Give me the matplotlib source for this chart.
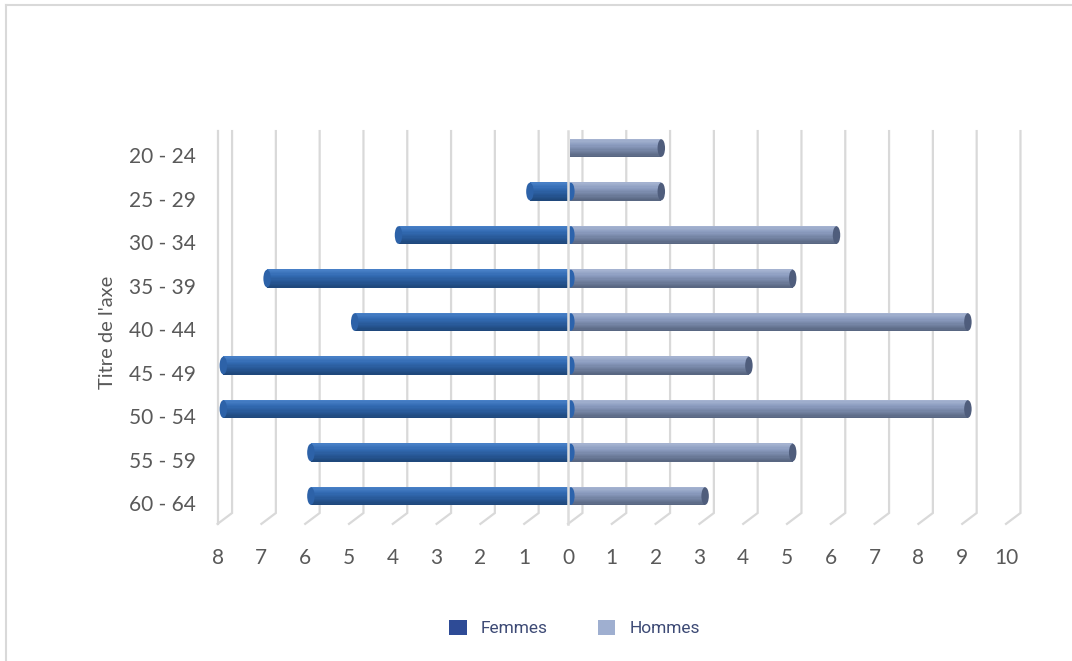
import matplotlib.pyplot as plt
import matplotlib.colors as mcolors
from matplotlib.lines import Line2D
from matplotlib.patches import Ellipse, Patch

age_groups = ["20 - 24", "25 - 29", "30 - 34", "35 - 39", "40 - 44",
              "45 - 49", "50 - 54", "55 - 59", "60 - 64"]
femmes = [0, 1, 4, 7, 5, 8, 8, 6, 6]
hommes = [2, 2, 6, 5, 9, 4, 9, 5, 3]
x_ticks = list(range(-8, 11))

# pseudo-3D geometry (data units)
DEPTH = 0.33          # back wall shift to the right
Y_TOP = -0.55
Y_BACK = 8.23
Y_FRONT = 8.48
BAR_H = 0.414
BAR_DY = -0.16
BAR_DX = 0.045
CAP = 0.17
GRID = "#D9D9D9"
TEXT = "#595959"

F_TOP, F_MID, F_BOT = "#4A82C8", "#3169B1", "#1E4679"
H_TOP, H_MID, H_BOT = "#A7B5D2", "#8A9BBE", "#56647F"


def shade(top, mid, bot, t):
    # t: 0 = top edge, 1 = bottom edge
    a, b, c = (mcolors.to_rgb(v) for v in (top, mid, bot))
    if t < 0.35:
        s = t / 0.35
        return tuple(a[i] * (1 - s) + b[i] * s for i in range(3))
    s = (t - 0.35) / 0.65
    return tuple(b[i] * (1 - s) + c[i] * s for i in range(3))


def cylinder(ax, y, left, width, cols, n=14):
    for k in range(n):
        t = (k + 0.5) / n
        yy = y - BAR_H / 2 + t * BAR_H
        ax.barh(yy, width, left=left, height=BAR_H / n + 0.002,
                color=shade(*cols, t), linewidth=0, zorder=3)


plt.rcParams["font.family"] = ["Lato", "DejaVu Sans"]
fig = plt.figure(figsize=(10.72, 6.61), dpi=100)
ax = fig.add_axes([200 / 1072, 1 - 545 / 661, 840 / 1072, 425 / 661])
ax.set_xlim(-8.402, 10.776)
ax.set_ylim(8.9655, -0.8046)

# back wall gridlines with floor slant
for v in x_ticks:
    ax.plot([v + DEPTH, v + DEPTH, v], [Y_TOP, Y_BACK, Y_FRONT],
            color=GRID, lw=1.6, zorder=1, clip_on=False, solid_joinstyle="miter")
ax.plot([-8, -8], [Y_TOP, Y_FRONT], color=GRID, lw=1.6, zorder=1, clip_on=False)

for i, (f, h) in enumerate(zip(femmes, hommes)):
    y = i + BAR_DY
    if h:
        end = BAR_DX + h + CAP / 2
        cylinder(ax, y, BAR_DX, end - BAR_DX, (H_TOP, H_MID, H_BOT))
        ax.add_patch(Ellipse((end, y), CAP, BAR_H * 0.98,
                             color="#4F5D7C", zorder=4, lw=0))
    if f:
        start = BAR_DX - f + CAP / 2
        cylinder(ax, y, start, BAR_DX - start, (F_TOP, F_MID, F_BOT))
        ax.add_patch(Ellipse((start, y), CAP, BAR_H * 0.98,
                             color="#2D62A8", zorder=4, lw=0))
        ax.add_patch(Ellipse((BAR_DX + 0.02, y), CAP, BAR_H * 0.98,
                             color="#2C63AC", zorder=4, lw=0))

# category axis at zero
ax.plot([0, 0], [Y_TOP, Y_FRONT], color="#DCDCDC", lw=1.8, zorder=5)

ax.set_xticks(x_ticks)
ax.set_xticklabels([str(abs(v)) for v in x_ticks])
ax.set_yticks(range(len(age_groups)))
ax.set_yticklabels(age_groups)
ax.tick_params(axis="x", length=0, pad=2, labelsize=15, labelcolor=TEXT)
ax.tick_params(axis="y", length=0, pad=3, labelsize=15, labelcolor=TEXT)
for s in ax.spines.values():
    s.set_visible(False)
ax.set_ylabel("Titre de l'axe", fontsize=14.5, color=TEXT)
ax.yaxis.set_label_coords(-0.1, 0.5)

handles = [Patch(facecolor="#2E4B96", edgecolor="none", label="Femmes"),
           Patch(facecolor="#9FAFD0", edgecolor="none", label="Hommes")]
fig.legend(handles=handles, loc="center", ncol=2, frameon=False,
           bbox_to_anchor=(574.5 / 1072, 1 - 628 / 661),
           prop={"family": "Roboto", "size": 12.5},
           labelcolor="#3D4A75", handlelength=1.0, handleheight=1.0,
           handletextpad=0.8, columnspacing=2.9)

# outer frame (top and left edges visible)
fig.add_artist(Line2D([6 / 1072, 1], [1 - 5 / 661, 1 - 5 / 661],
                      color=GRID, lw=1.5, transform=fig.transFigure))
fig.add_artist(Line2D([6 / 1072, 6 / 1072], [0, 1 - 5 / 661],
                      color=GRID, lw=1.5, transform=fig.transFigure))

fig.savefig("out.png", dpi=100)
plt.close(fig)
